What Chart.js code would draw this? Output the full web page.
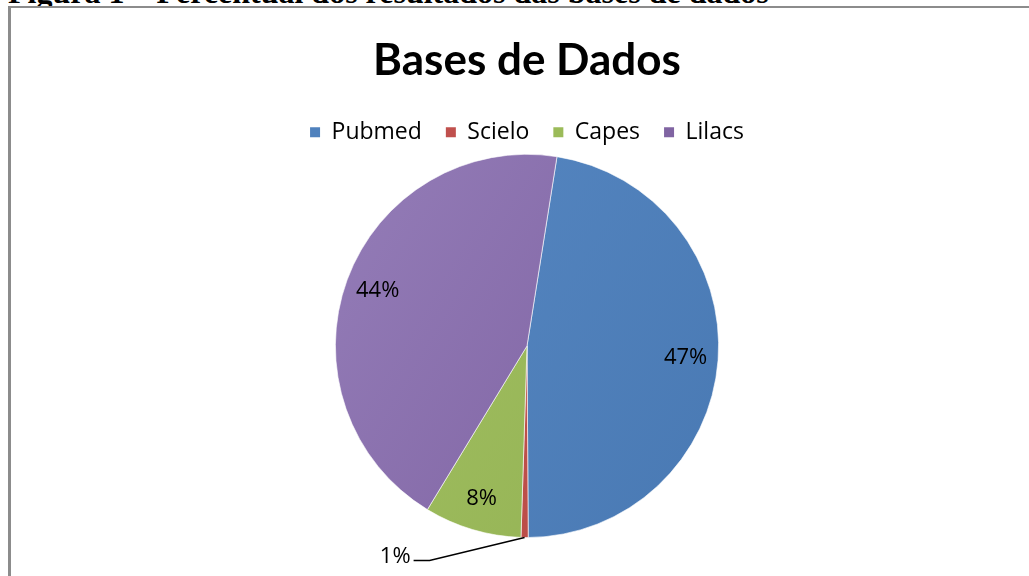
<!DOCTYPE html>
<html>
<head>
<meta charset="utf-8">
<script src="https://cdn.jsdelivr.net/npm/chart.js@4.4.1/dist/chart.umd.min.js"></script>
<style>
  html, body { margin: 0; padding: 0; background: #fff; overflow: hidden; }
  #caption {
    position: absolute; left: 8px; top: -24px;
    font: bold 32px "Liberation Serif", "Times New Roman", serif;
    line-height: 32px; white-space: nowrap; color: #000;
  }
  #frame {
    position: absolute; left: 8px; top: 6px; width: 1100px; height: 700px;
    border-left: 3px solid #8c8c8c; border-top: 2px solid #8c8c8c;
    background: #fff;
  }
  #wrap { position: absolute; left: 0; top: 0; width: 1029px; height: 576px; }
</style>
</head>
<body>
<div id="caption">Figura 1 – Percentual dos resultados das bases de dados</div>
<div id="frame"></div>
<div id="wrap"><canvas id="pieChart"></canvas></div>
<script>
// ===============================
// DATA
// ===============================
const categories = ["Pubmed", "Scielo", "Capes", "Lilacs"]
const shares = [47.4, 0.6, 8.2, 43.8]
const shareLabels = ["47%", "1%", "8%", "44%"]
const baseColors = ["#4F81BD", "#C0504D", "#9BBB59", "#8064A2"]
const lightColors = ["#5a8bc6", "#c95c59", "#a6c466", "#9983bd"]
const darkColors = ["#4676b0", "#b4463f", "#8fae4f", "#77599a"]

// ===============================
// GRADIENT FILL (excel-like)
// ===============================
function sliceFill(context) {
  const chart = context.chart
  const area = chart.chartArea
  const i = context.dataIndex
  if (!area) return baseColors[i]
  const g = chart.ctx.createLinearGradient(area.left + 180, area.top, area.right - 180, area.bottom)
  g.addColorStop(0, lightColors[i])
  g.addColorStop(1, darkColors[i])
  return g
}

// ===============================
// PERCENT LABELS
// ===============================
const percentLabels = {
  id: "percentLabels",
  afterDatasetsDraw(chart) {
    const ctx = chart.ctx
    const meta = chart.getDatasetMeta(0)
    ctx.save()
    ctx.font = '22px "Open Sans", Carlito, sans-serif'
    ctx.fillStyle = "#000"
    meta.data.forEach((arc, i) => {
      const mid = (arc.startAngle + arc.endAngle) / 2
      const r = arc.outerRadius
      if (shares[i] < 2) {
        // outside label with leader line
        const ex = arc.x + Math.cos(mid) * r
        const ey = arc.y + Math.sin(mid) * r
        const bx = ex - 95
        const by = ey + 23
        ctx.strokeStyle = "#000"
        ctx.lineWidth = 1.5
        ctx.beginPath()
        ctx.moveTo(ex, ey)
        ctx.lineTo(bx, by)
        ctx.lineTo(bx - 16, by)
        ctx.stroke()
        ctx.textAlign = "right"
        ctx.textBaseline = "middle"
        ctx.fillText(shareLabels[i], bx - 19, by - 4)
      } else {
        const lr = r * 0.83
        ctx.textAlign = "center"
        ctx.textBaseline = "middle"
        ctx.fillText(shareLabels[i], arc.x + Math.cos(mid) * lr, arc.y + Math.sin(mid) * lr)
      }
    })
    ctx.restore()
  }
}

// ===============================
// CHART
// ===============================
const ctx = document.getElementById("pieChart").getContext("2d")

new Chart(ctx, {
  type: "pie",
  data: {
    labels: categories,
    datasets: [{
      data: shares,
      backgroundColor: sliceFill,
      borderColor: "rgba(255,255,255,0.6)",
      borderWidth: 1
    }]
  },
  options: {
    responsive: true,
    maintainAspectRatio: false,
    animation: false,
    rotation: 9,
    layout: { padding: { left: 25, right: 0, top: 0, bottom: 38 } },
    plugins: {
      title: {
        display: true,
        text: "Bases de Dados",
        color: "#000",
        font: { family: "Lato, 'Open Sans', sans-serif", size: 44, weight: "bold" },
        padding: { top: 34, bottom: 10 }
      },
      legend: {
        position: "top",
        labels: {
          color: "#000",
          boxWidth: 10,
          boxHeight: 10,
          padding: 24,
          font: { family: "'Open Sans', Lato, sans-serif", size: 23 },
          generateLabels(chart) {
            return categories.map((c, i) => ({
              text: c,
              fillStyle: baseColors[i],
              strokeStyle: baseColors[i],
              lineWidth: 0,
              index: i
            }))
          }
        }
      },
      tooltip: { enabled: false }
    }
  },
  plugins: [percentLabels]
})
</script>
</body>
</html>
